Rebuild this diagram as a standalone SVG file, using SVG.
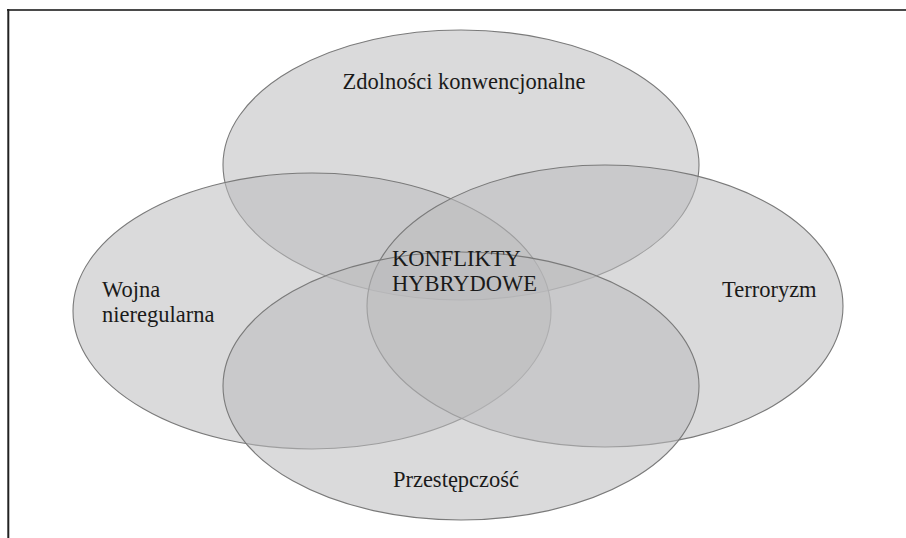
<svg xmlns="http://www.w3.org/2000/svg" width="906" height="538" viewBox="0 0 906 538">
<style>
.set{fill:#bcbcbe;fill-opacity:0.55;stroke:#7a7a7a;stroke-width:1.1}
.lbl{font-family:"Liberation Serif","Times New Roman",serif;font-size:22.5px;fill:#1a1a1a}
</style>
<rect width="906" height="538" fill="#ffffff"/>
<g id="frame">
<line x1="7" y1="10" x2="906" y2="10" stroke="#4a4a4a" stroke-width="2"/>
<line x1="8.3" y1="9" x2="8.3" y2="538" stroke="#222" stroke-width="2"/>
</g>
<g id="conventional">
<ellipse class="set" cx="461" cy="165" rx="238" ry="135"/>
<text class="lbl" x="464" y="89" text-anchor="middle">Zdolności konwencjonalne</text>
</g>
<g id="irregular">
<ellipse class="set" cx="312" cy="311" rx="239" ry="138"/>
<text class="lbl" x="102" y="297">Wojna</text>
<text class="lbl" x="102" y="322">nieregularna</text>
</g>
<g id="terrorism">
<ellipse class="set" cx="605" cy="306" rx="238" ry="141"/>
<text class="lbl" x="722" y="297">Terroryzm</text>
</g>
<g id="crime">
<ellipse class="set" cx="461" cy="386" rx="238" ry="134"/>
<text class="lbl" x="456" y="487" text-anchor="middle">Przestępczość</text>
</g>
<g id="hybrid">
<text class="lbl" x="392" y="266">KONFLIKTY</text>
<text class="lbl" x="392" y="291">HYBRYDOWE</text>
</g>
<g id="connectors"></g>
</svg>
